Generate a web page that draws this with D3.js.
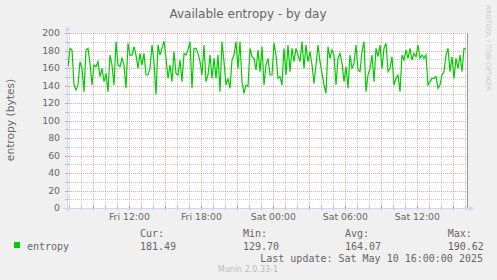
<!DOCTYPE html>
<html><head><meta charset="utf-8">
<script src="https://cdn.jsdelivr.net/npm/d3@7"></script>
<style>body{margin:0;background:#F0F0F0;overflow:hidden}</style>
</head><body>
<script>
const title = "Available entropy - by day";
const yLabel = "entropy (bytes)";
const seriesName = "entropy";
const seriesColor = "#00CC00";
const startTime = "2025-05-09T06:48:00Z";
const endTime = "2025-05-10T16:08:00Z";
const firstSample = "2025-05-09T06:53:00Z";
const sampleStepMinutes = 10;
const entropy = [
 161.5,182.5,180.6,140.6,134.9,140.6,167.2,159.6,133.0,180.6,182.5,165.3,140.6,163.4,161.5,167.2,150.1,159.6,144.4,153.9,
 133.0,174.8,163.4,140.6,190.1,163.4,161.5,171.0,163.4,136.8,188.2,174.8,174.8,184.4,174.8,159.6,176.7,163.4,176.7,152.0,
 152.0,159.6,186.3,167.2,129.7,186.3,174.8,182.5,190.62,171.0,148.2,163.4,144.4,178.7,153.9,152.0,169.1,144.4,176.7,174.8,
 180.6,190.1,136.8,182.5,182.5,176.7,167.2,152.0,186.3,144.4,152.0,174.8,148.2,171.0,148.2,174.8,133.0,190.1,167.2,140.6,
 148.2,136.8,169.1,174.8,190.1,159.6,190.1,144.4,131.1,140.6,138.7,182.5,172.9,171.0,157.7,180.6,155.8,184.4,140.6,163.4,
 171.0,152.0,152.0,188.2,174.8,148.2,150.1,140.6,182.5,152.0,186.3,155.8,182.5,167.2,182.5,174.8,167.2,190.1,159.6,186.3,
 167.2,178.7,163.4,142.5,163.4,186.3,167.2,153.9,140.6,131.1,184.4,171.0,180.6,174.8,140.6,171.0,176.7,165.3,144.4,161.5,
 136.8,174.8,159.6,165.3,186.3,157.7,155.8,178.7,190.1,133.0,152.0,159.6,174.8,144.4,182.5,172.9,186.3,159.6,182.5,188.2,
 155.8,159.6,172.9,140.6,148.2,152.0,133.0,174.8,169.1,180.6,171.0,182.5,169.1,176.7,172.9,186.3,171.0,174.8,171.0,174.8,
 140.6,144.4,148.2,148.2,150.1,136.8,140.6,152.0,155.8,174.8,182.5,155.8,172.9,148.2,171.0,159.6,174.8,155.8,182.5,181.49
];
const yMax = 200;
const yMinorStep = 10, yMajorStep = 20;
const xLabelHours = 6, xMajorHours = 3, xMinorHours = 1;
const legendHeaders = ["Cur:", "Min:", "Avg:", "Max:"];
const legendValues = ["181.49", "129.70", "164.07", "190.62"];
const lastUpdate = "Last update: Sat May 10 16:00:00 2025";
const watermark = "Munin 2.0.33-1";
const sideText = "RRDTOOL / TOBI OETIKER";

const W = 497, H = 280;
const L = 67, R = 467, T = 33, B = 208;
const fontColor = "#666666";
const axisColor = "#CFD6F8";

const svg = d3.select("body").append("svg").attr("width", W).attr("height", H)
  .style("font-family", "'DejaVu Sans', sans-serif");
svg.append("rect").attr("width", W).attr("height", H).attr("fill", "#F0F0F0");

const x = d3.scaleUtc().domain([new Date(startTime), new Date(endTime)]).range([L, R]);
const y = d3.scaleLinear().domain([0, yMax]).range([B, T]);

svg.append("rect").attr("x", L).attr("y", T).attr("width", R - L).attr("height", B - T).attr("fill", "#FFFFFF");

// grid
const g = svg.append("g").attr("shape-rendering", "crispEdges");
const minorY = d3.range(0, yMax + 1, yMinorStep).filter(v => v % yMajorStep !== 0);
const majorY = d3.range(0, yMax + 1, yMajorStep);
const hourTicks = x.ticks(d3.utcHour.every(xMinorHours));
const minorX = hourTicks.filter(d => d.getUTCHours() % xMajorHours !== 0);
const majorX = hourTicks.filter(d => d.getUTCHours() % xMajorHours === 0);
const minorCol = "rgba(140,140,140,0.45)", majorCol = "rgba(230,80,80,0.5)";
g.selectAll(".mx").data(minorX).join("line")
  .attr("x1", d => Math.round(x(d)) + 0.5).attr("x2", d => Math.round(x(d)) + 0.5)
  .attr("y1", T).attr("y2", B).attr("stroke", minorCol).attr("stroke-dasharray", "1,1");
g.selectAll(".my").data(minorY).join("line")
  .attr("x1", L).attr("x2", R).attr("y1", d => Math.round(y(d)) + 0.5).attr("y2", d => Math.round(y(d)) + 0.5)
  .attr("stroke", minorCol).attr("stroke-dasharray", "1,1");
g.selectAll(".Mx").data(majorX).join("line")
  .attr("x1", d => Math.round(x(d)) + 0.5).attr("x2", d => Math.round(x(d)) + 0.5)
  .attr("y1", T).attr("y2", B).attr("stroke", majorCol).attr("stroke-dasharray", "1,1");
g.selectAll(".My").data(majorY).join("line")
  .attr("x1", L).attr("x2", R).attr("y1", d => Math.round(y(d)) + 0.5).attr("y2", d => Math.round(y(d)) + 0.5)
  .attr("stroke", majorCol).attr("stroke-dasharray", "1,1");

// tick marks on axes
g.selectAll(".tx").data(hourTicks).join("line")
  .attr("x1", d => Math.round(x(d)) + 0.5).attr("x2", d => Math.round(x(d)) + 0.5)
  .attr("y1", B - 2).attr("y2", B + 2).attr("stroke", d => d.getUTCHours() % xMajorHours === 0 ? "rgba(230,80,80,0.6)" : "#bbbbbb");
g.selectAll(".ty").data(d3.range(0, yMax + 1, yMinorStep)).join("line")
  .attr("x1", L - 2).attr("x2", L + 2).attr("y1", d => Math.round(y(d)) + 0.5).attr("y2", d => Math.round(y(d)) + 0.5)
  .attr("stroke", d => d % yMajorStep === 0 ? "rgba(230,80,80,0.6)" : "#bbbbbb");

// right frame line
g.append("line").attr("x1", R + 0.5).attr("x2", R + 0.5).attr("y1", T).attr("y2", B).attr("stroke", "#999999");

// data line
const t0 = new Date(firstSample).getTime();
const pts = entropy.map((v, i) => ({ t: new Date(t0 + i * sampleStepMinutes * 60000), v }));
svg.append("path").datum(pts)
  .attr("fill", "none").attr("stroke", seriesColor).attr("stroke-width", 1.2)
  .attr("d", d3.line().x(d => x(d.t)).y(d => y(d.v)));

// axes lines with arrows
const ax = svg.append("g").attr("shape-rendering", "crispEdges");
ax.append("line").attr("x1", L - 4).attr("x2", R + 3).attr("y1", B + 0.5).attr("y2", B + 0.5).attr("stroke", axisColor);
ax.append("line").attr("x1", L + 0.5).attr("x2", L + 0.5).attr("y1", B + 4).attr("y2", T - 3).attr("stroke", axisColor);
svg.append("path").attr("d", `M${R + 7},${B + 0.5} L${R + 2},${B - 2.5} L${R + 2},${B + 3.5} Z`).attr("fill", axisColor);
svg.append("path").attr("d", `M${L + 0.5},${T - 7} L${L - 2.5},${T - 2} L${L + 3.5},${T - 2} Z`).attr("fill", axisColor);

// y tick labels
svg.selectAll(".yl").data(majorY).join("text")
  .attr("x", 60).attr("y", d => y(d) + 3.4).attr("text-anchor", "end")
  .attr("font-size", "9.33px").attr("fill", fontColor).text(d => d);

// x tick labels
const labelTicks = hourTicks.filter(d => d.getUTCHours() % xLabelHours === 0);
const fmt = d3.utcFormat("%a %H:%M");
svg.selectAll(".xl").data(labelTicks).join("text")
  .attr("x", d => x(d)).attr("y", 220).attr("text-anchor", "middle")
  .attr("font-size", "9.33px").attr("fill", fontColor).text(d => fmt(d));

// title
svg.append("text").attr("x", 248).attr("y", 18).attr("text-anchor", "middle")
  .attr("font-size", "12px").attr("fill", fontColor).text(title);

// y label
svg.append("text").attr("transform", "translate(14,120) rotate(-90)").attr("text-anchor", "middle")
  .attr("font-size", "10.67px").attr("fill", fontColor).text(yLabel);

// side watermark
svg.append("text").attr("transform", "translate(486,5) rotate(90)").attr("text-anchor", "start")
  .attr("font-size", "6.67px").attr("fill", "#C8C8C8").text(sideText);

// legend
const mono = "'DejaVu Sans Mono', monospace";
const colX = [140, 243, 345, 447.7];
svg.append("rect").attr("x", 14).attr("y", 242).attr("width", 6).attr("height", 6).attr("fill", seriesColor);
svg.append("text").attr("x", 27).attr("y", 249.5).attr("font-family", mono).attr("font-size", "10px")
  .attr("fill", fontColor).text(seriesName);
svg.selectAll(".lh").data(legendHeaders).join("text")
  .attr("x", (d, i) => colX[i]).attr("y", 237).attr("font-family", mono).attr("font-size", "10px")
  .attr("fill", fontColor).text(d => d);
svg.selectAll(".lv").data(legendValues).join("text")
  .attr("x", (d, i) => colX[i]).attr("y", 249.5).attr("font-family", mono).attr("font-size", "10px")
  .attr("fill", fontColor).text(d => d);
svg.append("text").attr("x", 483).attr("y", 262).attr("text-anchor", "end")
  .attr("font-family", mono).attr("font-size", "10px").attr("fill", fontColor)
  .style("white-space", "pre").text(lastUpdate);
svg.append("text").attr("x", 248).attr("y", 272).attr("text-anchor", "middle")
  .attr("font-size", "8px").attr("fill", "#BBBBBB").text(watermark);
</script>
</body></html>
